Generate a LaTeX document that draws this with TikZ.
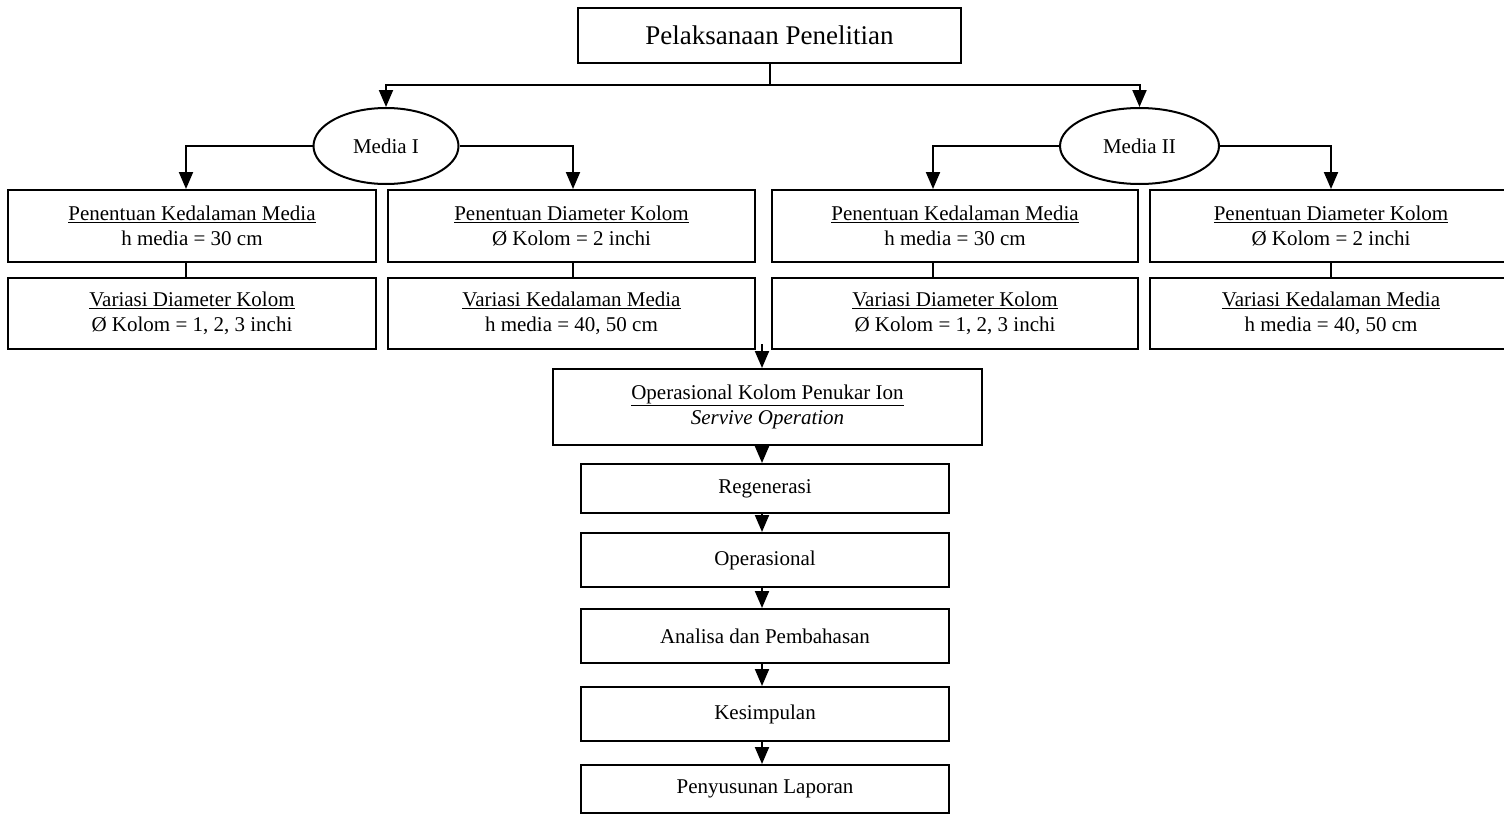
\documentclass[tikz,border=0pt]{standalone}
\usepackage{fontspec}
\setmainfont{Liberation Serif}
\usetikzlibrary{arrows.meta,shapes.geometric}
\newcommand\bodyf{\fontsize{21}{25}\selectfont}
\newcommand\titlef{\fontsize{27}{32}\selectfont}
\begin{document}
\begin{tikzpicture}[x=1pt,y=-1pt,
  conn/.style={line width=2pt, draw=black},
  arr/.style={conn, -{Triangle[length=17pt,width=14pt]}},
  box/.style={draw=black, line width=2pt, rectangle, inner sep=0pt, align=center, font=\bodyf},
  oval/.style={draw=black, line width=2pt, ellipse, inner sep=0pt, font=\bodyf}]
\useasboundingbox (0,0) rectangle (1504,816);
% top
\node[box, font=\titlef, minimum width=383pt, minimum height=55pt] (top) at (769.5,35.5) {Pelaksanaan Penelitian};
\coordinate (j) at (769.5,85);
% media ellipses
\node[oval, minimum width=145pt, minimum height=76pt] (m1) at (386,146) {Media I};
\node[oval, minimum width=159pt, minimum height=76pt] (m2) at (1139.5,146) {Media II};
% row 1
\node[box, minimum width=368pt, minimum height=72pt] (a1) at (192,226) {\underline{Penentuan Kedalaman Media}\\h media = 30 cm};
\node[box, minimum width=367pt, minimum height=72pt] (a2) at (571.5,226) {\underline{Penentuan Diameter Kolom}\\Ø Kolom = 2 inchi};
\node[box, minimum width=366pt, minimum height=72pt] (b1) at (955,226) {\underline{Penentuan Kedalaman Media}\\h media = 30 cm};
\node[box, minimum width=362pt, minimum height=72pt] (b2) at (1331,226) {\underline{Penentuan Diameter Kolom}\\Ø Kolom = 2 inchi};
% row 2
\node[box, minimum width=368pt, minimum height=71pt] (a1b) at (192,313.5) {\underline{Variasi Diameter Kolom}\\Ø Kolom = 1, 2, 3 inchi};
\node[box, minimum width=367pt, minimum height=71pt] (a2b) at (571.5,313.5) {\underline{Variasi Kedalaman Media}\\h media = 40, 50 cm};
\node[box, minimum width=366pt, minimum height=71pt] (b1b) at (955,313.5) {\underline{Variasi Diameter Kolom}\\Ø Kolom = 1, 2, 3 inchi};
\node[box, minimum width=362pt, minimum height=71pt] (b2b) at (1331,313.5) {\underline{Variasi Kedalaman Media}\\h media = 40, 50 cm};
% central chain
\node[box, minimum width=429pt, minimum height=76pt] (op) at (767.5,407) {\underline{Operasional Kolom Penukar Ion}\\\itshape Servive Operation};
\node[box, minimum width=368pt, minimum height=49pt] (reg) at (765,488.5) {Regenerasi};
\node[box, minimum width=368pt, minimum height=54pt] (ope) at (765,560) {Operasional};
\node[box, minimum width=368pt, minimum height=54pt] (ana) at (765,636) {Analisa dan Pembahasan};
\node[box, minimum width=368pt, minimum height=54pt] (kes) at (765,714) {Kesimpulan};
\node[box, minimum width=368pt, minimum height=48pt] (pen) at (765,789) {Penyusunan Laporan};
% coordinates for connector columns
\coordinate (xa1) at (186,0);
\coordinate (xa2) at (573,0);
\coordinate (xb1) at (933,0);
\coordinate (xb2) at (1331,0);
\coordinate (xc) at (762,0);
\coordinate (opin) at (762,344);
% connectors top
\draw[conn] (top.south) -- (j);
\draw[arr] (j) -| (m1.north);
\draw[arr] (j) -| (m2.north);
% from ellipses
\draw[arr] (m1.west) -| (a1.north -| xa1);
\draw[arr] (m1.east) -| (a2.north -| xa2);
\draw[arr] (m2.west) -| (b1.north -| xb1);
\draw[arr] (m2.east) -| (b2.north -| xb2);
% row links
\draw[conn] (a1.south -| xa1) -- (a1b.north -| xa1);
\draw[conn] (a2.south -| xa2) -- (a2b.north -| xa2);
\draw[conn] (b1.south -| xb1) -- (b1b.north -| xb1);
\draw[conn] (b2.south -| xb2) -- (b2b.north -| xb2);
% chain
\draw[arr] (opin) -- (op.north -| xc);
\draw[arr] (op.south -| xc) -- (reg.north -| xc);
\draw[arr] (reg.south -| xc) -- (ope.north -| xc);
\draw[arr] (ope.south -| xc) -- (ana.north -| xc);
\draw[arr] (ana.south -| xc) -- (kes.north -| xc);
\draw[arr] (kes.south -| xc) -- (pen.north -| xc);
\end{tikzpicture}
\end{document}
